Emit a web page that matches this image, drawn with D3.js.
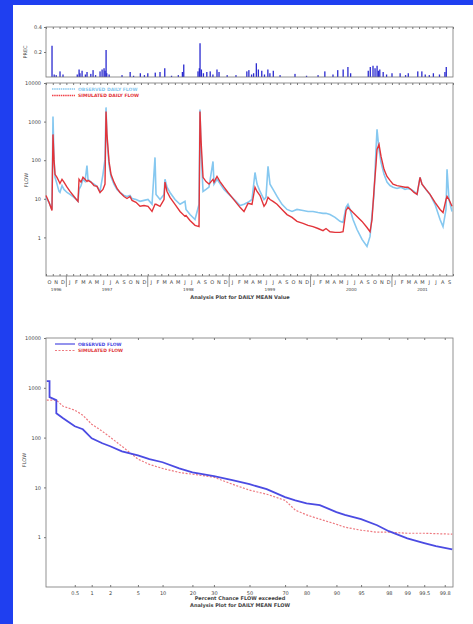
<!DOCTYPE html>
<html>
<head>
<meta charset="utf-8">
<script src="https://cdn.jsdelivr.net/npm/d3@7"></script>
<style>
  body { margin: 0; background: #1f3ff0; }
  svg text { font-family: "DejaVu Sans", sans-serif; }
</style>
</head>
<body>
<svg id="chart" width="473" height="624"></svg>
<script>
// ---- data ----
const monthLetters = ["J","F","M","A","M","J","J","A","S","O","N","D"];
const yearLabels = ["1996","1997","1998","1999","2000","2001"];
const flowTicks = [1, 10, 100, 1000, 10000];
const precipTicks = [0.2, 0.4];
const pctTicks = [0.5, 1, 2, 5, 10, 20, 30, 50, 70, 80, 90, 95, 98, 99, 99.5, 99.8];

// months since Oct 1 1996
const flowMonth = [0,0.44,0.88,1.03,1.18,1.33,1.62,1.92,2.06,2.36,2.65,3.10,3.54,4.13,4.72,4.87,5.16,5.45,5.75,6.04,
  6.19,6.63,7.08,7.52,7.96,8.40,8.70,8.85,8.99,9.29,9.58,10.02,10.47,10.91,11.50,11.94,12.38,12.68,13.27,13.86,
  14.45,15.04,15.63,16.07,16.22,16.81,17.40,17.54,17.84,18.28,19.02,19.76,20.49,20.64,21.23,21.97,22.56,22.70,22.85,23.15,
  23.59,24.03,24.62,24.77,25.21,25.65,26.24,26.83,27.42,28.01,28.60,29.19,29.78,30.37,30.81,31.11,31.55,32.14,32.43,32.73,
  33.02,33.47,34.06,34.79,35.53,36.27,37.00,37.89,38.63,39.36,40.10,40.84,41.28,41.87,42.61,43.34,43.79,44.23,44.52,44.82,
  45.26,45.85,46.59,47.32,47.77,48.06,48.36,48.65,48.80,49.09,49.39,49.83,50.27,50.71,51.16,51.75,52.34,52.93,53.37,53.81,
  54.25,54.70,55.14,55.43,56.02,56.61,57.35,58.09,58.53,58.97,59.12,59.41,59.85];
const obsFlow = [10.9,8.1,5.3,1364,105,36,24,15.5,14.6,22,17.5,14.6,13,10.9,8.6,17.5,22,32,28,73,
  32,27,24,21,15.5,43,105,2333,346,78,38,24,17.5,14.6,12.2,11.5,12.2,10.2,9.6,8.6,
  9.1,9.6,7.2,118,13,9.6,13,32,20,14.6,9.6,7.2,8.6,5.3,3.9,2.9,7.2,2070,190,15.5,
  17.5,20,93,24,32,25,17.5,13.8,10.9,8.6,6.7,7.2,8.1,9.6,48,24,15.5,9.6,10.9,69,
  24,17.5,11.5,7.2,5.3,4.7,5.3,5.0,4.7,4.7,4.4,4.2,4.2,3.9,3.3,2.6,2.45,6.0,7.2,5.3,
  2.9,1.6,0.89,0.58,1.06,3.9,13,190,628,190,88,43,27,22,20,18.6,20,17.5,18.6,17.5,
  15.5,13,36,24,17.5,13,7.2,2.9,1.9,5.3,58,9.6,4.7];
const simFlow = [12.2,8.1,5.0,466,105,43,36,28,25,32,27,20,15.5,11.5,8.6,32,27,36,32,28,
  30,27,22,21,14.6,17.5,24,1837,466,93,43,27,18.6,14.6,11.5,10.2,11.5,9.1,8.1,6.4,
  6.7,6.4,4.7,7.2,7.2,6.4,9.6,27,15.5,10.9,7.2,4.7,3.5,3.7,2.75,2.05,1.9,1837,346,36,
  28,24,32,27,38,28,20,14.6,10.9,8.1,6.0,4.7,7.6,7.2,20,15.5,12.2,6.4,7.6,10.9,
  9.6,8.6,7.2,5.3,3.9,3.3,2.6,2.3,2.05,1.9,1.7,1.5,1.7,1.4,1.35,1.35,1.4,5.0,6.0,5.3,
  4.4,3.5,2.6,1.8,1.4,2.9,17.5,78,190,257,125,58,38,30,24,22,21,20,20,17.5,
  14.6,13,36,24,17.5,13,8.1,5.3,4.4,9.6,11.5,9.6,6.4];

const precipMonth = [0.88,1.2,1.5,2.06,2.5,4.6,4.87,5.0,5.31,5.8,6.04,6.6,6.93,7.3,7.96,8.26,8.55,8.7,8.85,8.95,
  9.3,11.2,12.4,12.9,13.9,14.5,15.0,16.1,16.8,17.5,18.5,19.5,20.1,20.3,22.4,22.6,22.7,22.9,23.2,23.7,
  24.2,24.6,25.2,25.5,26.7,28.0,29.6,29.9,30.3,30.6,31.0,31.3,31.8,32.2,32.7,33.0,33.5,34.5,36.7,38.4,
  40.1,41.1,42.3,43.0,43.8,44.5,44.9,47.5,47.8,48.2,48.5,48.8,49.0,49.2,49.7,50.2,51.0,52.2,53.0,53.4,
  54.8,55.4,55.9,56.5,57.1,58.0,58.8,59.0];
const precipVal = [0.25,0.02,0.015,0.045,0.02,0.02,0.06,0.03,0.05,0.02,0.04,0.025,0.055,0.015,0.045,0.06,0.07,0.05,0.216,0.03,
  0.02,0.015,0.04,0.01,0.03,0.015,0.03,0.035,0.04,0.07,0.01,0.015,0.04,0.1,0.045,0.07,0.27,0.06,0.03,0.04,
  0.045,0.02,0.06,0.04,0.015,0.015,0.045,0.055,0.02,0.03,0.11,0.06,0.05,0.02,0.06,0.03,0.05,0.015,0.025,0.01,
  0.015,0.045,0.02,0.055,0.06,0.08,0.03,0.05,0.08,0.09,0.07,0.09,0.05,0.06,0.04,0.02,0.03,0.03,0.015,0.03,
  0.045,0.045,0.02,0.015,0.03,0.02,0.04,0.08];

// flow duration (percent of time exceeded)
const durObsPct = [0.14,0.16,0.16,0.22,0.22,0.3,0.5,0.7,1,1.5,2,3,5,7,10,15,20,30,40,50,60,70,75,80,85,90,92,95,97,98,99,99.5,99.7,99.86];
const durObs = [1357,1357,648,564,309,245,169,147,97,77,67,53,44,37,32,24,20,16.8,14,11.6,9.2,6.4,5.5,4.8,4.4,3.2,2.8,2.3,1.74,1.32,0.95,0.76,0.66,0.57];
const durSimPct = [0.14,0.22,0.3,0.5,0.7,1,1.5,2,3,5,7,10,15,20,30,40,50,60,70,75,80,85,90,92,95,97,98,99,99.5,99.86];
const durSim = [564,564,427,355,282,186,134,102,67,37,29,24,20,18.4,16,11.6,8.8,7.3,5.5,3.5,2.8,2.3,1.82,1.59,1.38,1.26,1.26,1.2,1.2,1.15];

// ---- helpers ----
function probit(p) {
  const a = [-39.69683028665376, 220.9460984245205, -275.9285104469687, 138.3577518672690, -30.66479806614716, 2.506628277459239];
  const b = [-54.47609879822406, 161.5858368580409, -155.6989798598866, 66.80131188771972, -13.28068155288572];
  const c = [-0.007784894002430293, -0.3223964580411365, -2.400758277161838, -2.549732539343734, 4.374664141464968, 2.938163982698783];
  const d = [0.007784695709041462, 0.3224671290700398, 2.445134137142996, 3.754408661907416];
  let q, r;
  if (p < 0.02425) {
    q = Math.sqrt(-2 * Math.log(p));
    return (((((c[0]*q+c[1])*q+c[2])*q+c[3])*q+c[4])*q+c[5]) / ((((d[0]*q+d[1])*q+d[2])*q+d[3])*q+1);
  }
  if (p <= 1 - 0.02425) {
    q = p - 0.5; r = q * q;
    return (((((a[0]*r+a[1])*r+a[2])*r+a[3])*r+a[4])*r+a[5])*q / (((((b[0]*r+b[1])*r+b[2])*r+b[3])*r+b[4])*r+1);
  }
  q = Math.sqrt(-2 * Math.log(1 - p));
  return -(((((c[0]*q+c[1])*q+c[2])*q+c[3])*q+c[4])*q+c[5]) / ((((d[0]*q+d[1])*q+d[2])*q+d[3])*q+1);
}

const svg = d3.select("#chart");
svg.append("rect").attr("x", 13).attr("y", 5).attr("width", 460).attr("height", 619).attr("fill", "#fff");

const left = 46, right = 453;
const frameColor = "#777";
const textColor = "#444";
const fs = 5;

let xm = d3.scaleLinear().domain([0, 60]).range([left, right]);

// ---- precipitation panel ----
let py = d3.scaleLinear().domain([0, 0.4]).range([77, 27]);

svg.append("g")
  .selectAll("rect")
  .data(precipMonth)
  .enter()
  .append("rect")
  .attr("x", d => xm(d) - 0.6)
  .attr("width", 1.3)
  .attr("y", (d, i) => py(precipVal[i]))
  .attr("height", (d, i) => py(0) - py(precipVal[i]))
  .attr("fill", "#2b2bd0");

svg.append("rect").attr("x", left).attr("y", 27).attr("width", right - left).attr("height", 50)
  .attr("fill", "none").attr("stroke", frameColor).attr("stroke-width", 0.8);

svg.append("g")
  .attr("transform", "translate(0,27)")
  .call(d3.axisTop(xm).tickValues(d3.range(0, 61)).tickSize(-2).tickFormat(""))
  .call(g => g.select(".domain").remove())
  .selectAll("line").attr("stroke", frameColor);

svg.append("g")
  .attr("transform", "translate(" + left + ",0)")
  .call(d3.axisLeft(py).tickValues(precipTicks).tickSize(2).tickPadding(2).tickFormat(d3.format(".1f")))
  .call(g => g.select(".domain").remove())
  .call(g => g.selectAll("text").attr("font-size", fs).attr("fill", textColor))
  .selectAll("line").attr("stroke", frameColor);

svg.append("text")
  .attr("transform", "translate(27,52) rotate(-90)")
  .attr("text-anchor", "middle").attr("font-size", fs).attr("fill", textColor)
  .text("PREC");

// ---- daily flow panel ----
let fy = d3.scaleLog().domain([0.1, 10000]).range([276, 83]);

svg.append("rect").attr("x", left).attr("y", 83).attr("width", right - left).attr("height", 193)
  .attr("fill", "none").attr("stroke", frameColor).attr("stroke-width", 0.8);

let flowLine = d3.line()
  .x(d => xm(d[0]))
  .y(d => fy(d[1]));

svg.append("path")
  .datum(flowMonth.map((m, i) => [m, obsFlow[i]]))
  .attr("d", flowLine)
  .attr("fill", "none")
  .attr("stroke", "#86c8f0")
  .attr("stroke-width", 1.6);

svg.append("path")
  .datum(flowMonth.map((m, i) => [m, simFlow[i]]))
  .attr("d", flowLine)
  .attr("fill", "none")
  .attr("stroke", "#e2343a")
  .attr("stroke-width", 1.4);

svg.append("g")
  .attr("transform", "translate(0,83)")
  .call(d3.axisTop(xm).tickValues(d3.range(0, 61)).tickSize(-2).tickFormat(""))
  .call(g => g.select(".domain").remove())
  .selectAll("line").attr("stroke", frameColor);

svg.append("g")
  .attr("transform", "translate(0,276)")
  .call(d3.axisBottom(xm).tickValues(d3.range(0, 61)).tickSize(-2).tickFormat(""))
  .call(g => g.select(".domain").remove())
  .selectAll("line").attr("stroke", frameColor);

// year separators below the axis
svg.append("g")
  .selectAll("line")
  .data([3, 15, 27, 39, 51])
  .enter()
  .append("line")
  .attr("x1", d => xm(d)).attr("x2", d => xm(d))
  .attr("y1", 276).attr("y2", 287)
  .attr("stroke", frameColor).attr("stroke-width", 0.8);

// month letters
svg.append("g")
  .selectAll("text")
  .data(d3.range(0, 60))
  .enter()
  .append("text")
  .attr("x", d => xm(d + 0.5))
  .attr("y", 284)
  .attr("text-anchor", "middle")
  .attr("font-size", fs).attr("fill", textColor)
  .text(d => monthLetters[(d + 9) % 12]);

const yearMid = [1.5, 9, 21, 33, 45, 55.5];
svg.append("g")
  .selectAll("text")
  .data(yearLabels)
  .enter()
  .append("text")
  .attr("x", (d, i) => xm(yearMid[i]))
  .attr("y", 291)
  .attr("text-anchor", "middle")
  .attr("font-size", 4.2).attr("fill", textColor)
  .text(d => d);

svg.append("text")
  .attr("x", 240).attr("y", 299)
  .attr("text-anchor", "middle").attr("font-size", fs).attr("font-weight", "bold").attr("fill", textColor)
  .text("Analysis Plot for DAILY MEAN Value");

svg.append("g")
  .attr("transform", "translate(" + left + ",0)")
  .call(d3.axisLeft(fy).tickValues(flowTicks).tickSize(2).tickPadding(3).tickFormat(d3.format("d")))
  .call(g => g.select(".domain").remove())
  .call(g => g.selectAll("text").attr("font-size", fs).attr("fill", textColor))
  .selectAll("line").attr("stroke", frameColor);

svg.append("text")
  .attr("transform", "translate(28,180) rotate(-90)")
  .attr("text-anchor", "middle").attr("font-size", fs).attr("fill", textColor)
  .text("FLOW");

// legend
svg.append("line").attr("x1", 52).attr("x2", 75).attr("y1", 89).attr("y2", 89)
  .attr("stroke", "#86c8f0").attr("stroke-width", 1.3).attr("stroke-dasharray", "1.5,0.7");
svg.append("text").attr("x", 78).attr("y", 90.5).attr("font-size", 4.5).attr("font-weight", "bold")
  .attr("fill", "#86c8f0").text("OBSERVED DAILY FLOW");
svg.append("line").attr("x1", 52).attr("x2", 75).attr("y1", 95.5).attr("y2", 95.5)
  .attr("stroke", "#f04048").attr("stroke-width", 1.3).attr("stroke-dasharray", "1.5,0.7");
svg.append("text").attr("x", 78).attr("y", 97).attr("font-size", 4.5).attr("font-weight", "bold")
  .attr("fill", "#e2343a").text("SIMULATED DAILY FLOW");

// ---- flow duration panel ----
let dx = d3.scaleLinear().domain([-3, 3]).range([left, right]);
let dy = d3.scaleLog().domain([0.1, 10000]).range([587, 338]);

svg.append("rect").attr("x", left).attr("y", 338).attr("width", right - left).attr("height", 249)
  .attr("fill", "none").attr("stroke", frameColor).attr("stroke-width", 0.8);

let durLine = d3.line()
  .x(d => dx(probit(d[0] / 100)))
  .y(d => dy(d[1]));

svg.append("path")
  .datum(durSimPct.map((p, i) => [p, durSim[i]]))
  .attr("d", durLine)
  .attr("fill", "none")
  .attr("stroke", "#ee7a80")
  .attr("stroke-width", 1.2)
  .attr("stroke-dasharray", "2,1.5");

svg.append("path")
  .datum(durObsPct.map((p, i) => [p, durObs[i]]))
  .attr("d", durLine)
  .attr("fill", "none")
  .attr("stroke", "#4b4be2")
  .attr("stroke-width", 1.8);

let pctAxisTop = d3.axisTop(dx).tickValues(pctTicks.map(p => probit(p / 100))).tickSize(-2).tickFormat("");
svg.append("g")
  .attr("transform", "translate(0,338)")
  .call(pctAxisTop)
  .call(g => g.select(".domain").remove())
  .selectAll("line").attr("stroke", frameColor);

svg.append("g")
  .attr("transform", "translate(0,587)")
  .call(d3.axisBottom(dx).tickValues(pctTicks.map(p => probit(p / 100))).tickSize(-2).tickPadding(4)
    .tickFormat((d, i) => pctTicks[i]))
  .call(g => g.select(".domain").remove())
  .call(g => g.selectAll("text").attr("font-size", fs).attr("fill", textColor))
  .selectAll("line").attr("stroke", frameColor);

svg.append("g")
  .attr("transform", "translate(" + left + ",0)")
  .call(d3.axisLeft(dy).tickValues(flowTicks).tickSize(2).tickPadding(3).tickFormat(d3.format("d")))
  .call(g => g.select(".domain").remove())
  .call(g => g.selectAll("text").attr("font-size", fs).attr("fill", textColor))
  .selectAll("line").attr("stroke", frameColor);

svg.append("text")
  .attr("transform", "translate(26,460) rotate(-90)")
  .attr("text-anchor", "middle").attr("font-size", fs).attr("fill", textColor)
  .text("FLOW");

svg.append("text")
  .attr("x", 240).attr("y", 600)
  .attr("text-anchor", "middle").attr("font-size", fs).attr("font-weight", "bold").attr("fill", textColor)
  .text("Percent Chance FLOW exceeded");
svg.append("text")
  .attr("x", 240).attr("y", 607)
  .attr("text-anchor", "middle").attr("font-size", fs).attr("font-weight", "bold").attr("fill", textColor)
  .text("Analysis Plot for DAILY MEAN FLOW");

// legend
svg.append("line").attr("x1", 55).attr("x2", 75).attr("y1", 344).attr("y2", 344)
  .attr("stroke", "#4b4be2").attr("stroke-width", 1.2);
svg.append("text").attr("x", 78).attr("y", 345.5).attr("font-size", 4.5).attr("font-weight", "bold")
  .attr("fill", "#4b4be2").text("OBSERVED FLOW");
svg.append("line").attr("x1", 55).attr("x2", 75).attr("y1", 350.5).attr("y2", 350.5)
  .attr("stroke", "#ee7a80").attr("stroke-width", 1.2).attr("stroke-dasharray", "2,1.5");
svg.append("text").attr("x", 78).attr("y", 352).attr("font-size", 4.5).attr("font-weight", "bold")
  .attr("fill", "#e03a40").text("SIMULATED FLOW");
</script>
</body>
</html>
